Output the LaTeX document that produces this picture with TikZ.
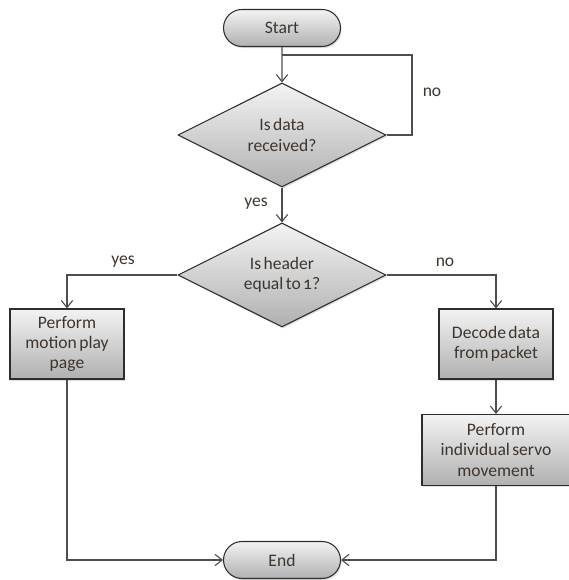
\documentclass[tikz,border=0pt]{standalone}
\usepackage{fontspec}
\setmainfont{Carlito}[Numbers=OldStyle, WordSpace=0.6]
\definecolor{edge}{RGB}{45,45,45}
\definecolor{wire}{RGB}{78,78,78}
\definecolor{fltop}{RGB}{243,243,243}
\definecolor{flbot}{RGB}{176,176,176}
\definecolor{txt}{RGB}{62,54,46}
\usetikzlibrary{shapes.geometric}
\usetikzlibrary{shapes.misc}
\usetikzlibrary{arrows.meta}
\usetikzlibrary{shadows}
\tikzset{
    base/.style={draw=edge, line width=0.75pt, top color=fltop, bottom color=flbot, text=txt, align=center, inner sep=0pt,
        drop shadow={opacity=0.25, shadow xshift=0.8pt, shadow yshift=-1.2pt}, font=\fontsize{12.5}{14.5}\selectfont},
    term/.style={base, rounded rectangle, minimum width=2.925cm, minimum height=0.925cm},
    proc/.style={base, rectangle, minimum width=2.85cm, minimum height=1.75cm},
    dec/.style={base, diamond, aspect=2, minimum width=5.2cm, minimum height=2.6cm},
    flow/.style={draw=wire, line width=0.8pt, -{Straight Barb[length=5pt,width=8pt]}},
    link/.style={draw=wire, line width=0.8pt},
    lbl/.style={text=txt, inner sep=0pt, font=\fontsize{12.5}{14.5}\selectfont}
}

\begin{document}
\begin{tikzpicture}
    \useasboundingbox (0,0) rectangle (14.2,14.5);

    \node[term] (start) at (7.05,13.8) {Start};
    \node[dec] (recv) at (7.05,11.125) {Is data\\received?};
    \node[dec] (hdr) at (7.05,7.625) {Is header\\equal to 1?};
    \node[proc] (play) at (1.675,5.9) {Perform\\motion play\\page};
    \node[proc] (decode) at (12.4,5.9) {Decode data\\from packet};
    \node[proc, minimum width=3.7cm, minimum height=1.775cm] (servo) at (12.4,3.25) {Perform\\individual servo\\movement};
    \node[term] (end) at (7.05,0.5) {End};

    \coordinate (loopc) at (10.3,13.125);

    \draw[flow] (start) -- (recv);
    \draw[link] (recv.east) -| (loopc) -- (loopc -| start);
    \node[lbl] (noloop) at (10.8,12.2) {no};

    \draw[flow] (recv) -- (hdr);
    \node[lbl] (yesrecv) at (6.4,9.4) {yes};

    \draw[flow] (hdr.west) -| (play.north);
    \node[lbl] (yeshdr) at (3.075,7.95) {yes};
    \draw[flow] (hdr.east) -| (decode.north);
    \node[lbl] (nohdr) at (11.125,7.95) {no};

    \draw[flow] (decode) -- (servo);
    \draw[flow] (play.south) |- (end.west);
    \draw[flow] (servo.south) |- (end.east);
\end{tikzpicture}
\end{document}
